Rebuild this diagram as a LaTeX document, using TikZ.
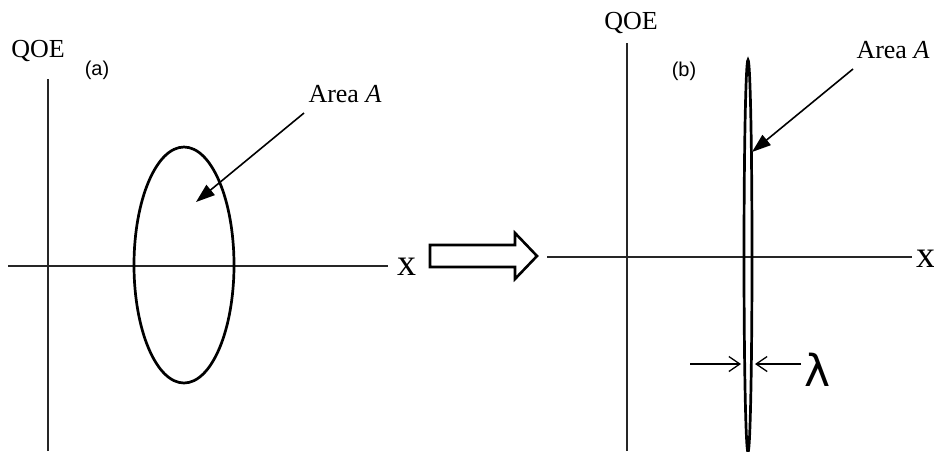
\documentclass[tikz,border=0pt]{standalone}
\usepackage{fontspec}
\setmainfont{Liberation Serif}
\newfontfamily\armfont{Liberation Sans}
\newfontfamily\lamfont{DejaVu Sans}
\usetikzlibrary{arrows.meta}
\begin{document}
\begin{tikzpicture}[x=1pt,y=-1pt,
  axis/.style={line width=1.2pt,black!85},
  curve/.style={line width=2.7pt},
  pointer/.style={line width=1.6pt,-{Triangle[length=19pt,width=13pt]}},
  squeeze/.style={line width=1.3pt,-{Straight Barb[length=11pt,width=15pt,line width=1.3pt]}},
  serif/.style={inner sep=0pt,anchor=base,font=\fontsize{26}{26}\selectfont},
  tag/.style={inner sep=0pt,font=\armfont\fontsize{20}{20}\selectfont}]
\useasboundingbox (0,0) rectangle (934,451);
% ---------- panel (a) ----------
\coordinate (ayb) at (48,451);
\coordinate (ayt) at (48,79);
\coordinate (axl) at (8,266);
\coordinate (axr) at (388,266);
\draw[axis] (ayb) -- (ayt);
\draw[axis] (axl) -- (axr);
\node[serif] (qoea) at (38,57) {QOE};
\node[tag] (taga) at (97,70) {(a)};
\node[serif,font=\fontsize{38}{38}\selectfont] (xa) at (407,275) {x};
\draw[curve] (184,265) ellipse [x radius=50, y radius=118];
\coordinate (ina) at (196,202);
\node[serif] (areaa) at (345,102) {Area \textit{A}};
\coordinate (froma) at (304,113);
\draw[pointer] (froma) -- (ina);
% ---------- block arrow ----------
\draw[line width=2.6pt,line join=miter] (430,245) -- (515,245) -- (515,233) -- (537,256) -- (515,279) -- (515,267) -- (430,267) -- cycle;
% ---------- panel (b) ----------
\coordinate (byb) at (627,451);
\coordinate (byt) at (627,43);
\coordinate (bxl) at (547,257);
\coordinate (bxr) at (912,257);
\draw[axis] (byb) -- (byt);
\draw[axis] (bxl) -- (bxr);
\node[serif] (qoeb) at (631,29) {QOE};
\node[tag] (tagb) at (684,71) {(b)};
\node[serif,font=\fontsize{38}{38}\selectfont] (xb) at (926,267) {x};
\draw[curve] (748,256) ellipse [x radius=4, y radius=196];
\node[serif] (areab) at (893,58) {Area \textit{A}};
\coordinate (fromb) at (853,69);
\coordinate (inb) at (752,152);
\draw[pointer] (fromb) -- (inb);
\coordinate (ll) at (690,364);
\coordinate (lr) at (741,364);
\coordinate (rr) at (801,364);
\coordinate (rl) at (755,364);
\draw[squeeze] (ll) -- (lr);
\draw[squeeze] (rr) -- (rl);
\node[inner sep=0pt,anchor=base,font=\lamfont\fontsize{44}{44}\selectfont] (lam) at (818,386) {λ};
\end{tikzpicture}
\end{document}
